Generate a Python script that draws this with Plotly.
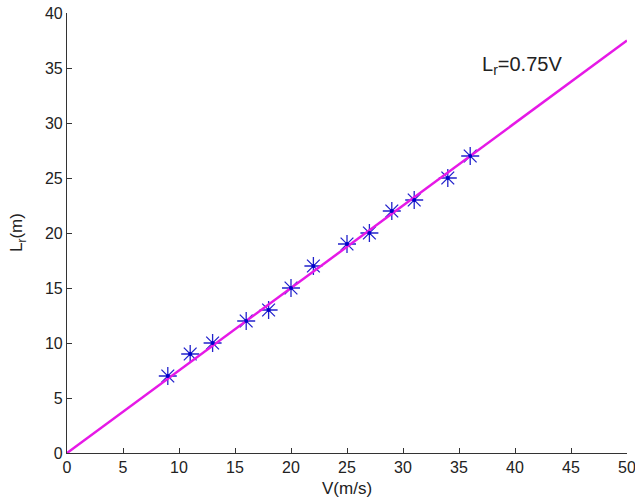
import plotly.graph_objects as go

# Measured data (V in m/s, Lr in m)
v_data = [9, 11, 13, 16, 18, 20, 22, 25, 27, 29, 31, 34, 36]
lr_data = [7, 9, 10, 12, 13, 15, 17, 19, 20, 22, 23, 25, 27]

# Fitted line Lr = 0.75 V
fit_slope = 0.75
v_line = [0, 50]
lr_line = [fit_slope * v for v in v_line]

x_ticks = [0, 5, 10, 15, 20, 25, 30, 35, 40, 45, 50]
y_ticks = [0, 5, 10, 15, 20, 25, 30, 35, 40]

FONT = "Arial, Liberation Sans, sans-serif"

fig = go.Figure()
fig.add_trace(go.Scatter(
    x=v_data, y=lr_data, mode="markers",
    marker=dict(symbol="asterisk-open", size=15, color="#2222cc",
                line=dict(width=1.3, color="#2222cc")),
    showlegend=False, cliponaxis=False))
fig.add_trace(go.Scatter(
    x=v_line, y=lr_line, mode="lines",
    line=dict(color="#e619e6", width=2.5),
    showlegend=False))
fig.add_trace(go.Scatter(
    x=v_data, y=lr_data, mode="markers",
    marker=dict(symbol="circle", size=4, color="#0000cc"),
    showlegend=False))

axis_common = dict(
    showgrid=False, zeroline=False, showline=True, linecolor="#333333",
    linewidth=1.2, ticks="inside", ticklen=5, tickcolor="#333333",
    tickfont=dict(family=FONT, size=16, color="#222222"),
    mirror=False, automargin=False, ticklabeloverflow="allow",
)

fig.update_layout(
    width=635, height=503,
    margin=dict(l=67, r=8, t=13, b=50),
    paper_bgcolor="white", plot_bgcolor="white",
    xaxis=dict(range=[0, 50], tickvals=x_ticks, **axis_common),
    yaxis=dict(range=[0, 40], tickvals=y_ticks, **axis_common),
    annotations=[
        dict(text="L<sub>r</sub>=0.75V", x=0.738, y=0.88, xref="paper", yref="paper",
             xanchor="left", yanchor="middle", showarrow=False,
             font=dict(family=FONT, size=20, color="#222222")),
        dict(text="V(m/s)", x=0.5, y=0, xref="paper", yref="paper",
             yshift=-35, xanchor="center", yanchor="middle", showarrow=False,
             font=dict(family=FONT, size=17, color="#222222")),
        dict(text="L<sub>r</sub>(m)", x=0, y=0.5, xref="paper", yref="paper",
             xshift=-49, xanchor="center", yanchor="middle", showarrow=False,
             textangle=-90,
             font=dict(family=FONT, size=17, color="#222222")),
    ],
)

fig.write_html(
    "out.html",
    config={"displayModeBar": False},
    post_script="document.body.style.margin='0';document.body.style.overflow='hidden';",
)
